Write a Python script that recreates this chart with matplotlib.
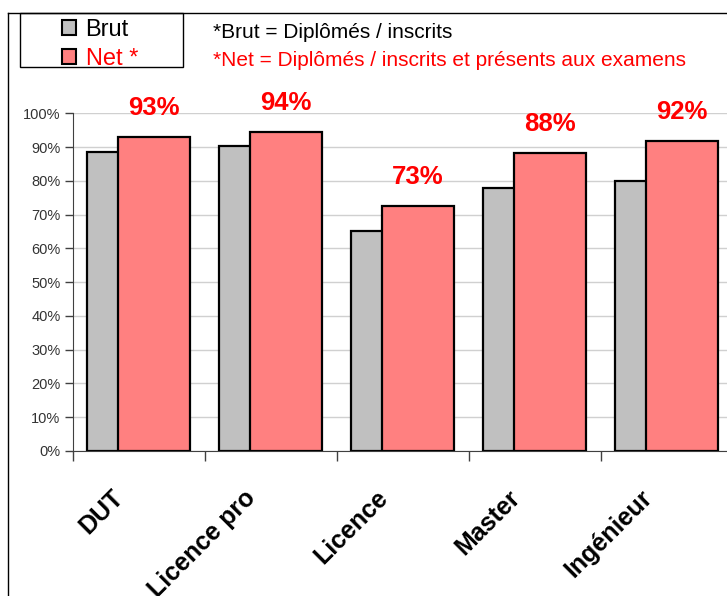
import matplotlib.pyplot as plt
import matplotlib.transforms as mtransforms
from matplotlib.lines import Line2D
from matplotlib.patches import Rectangle, Patch

plt.rcParams['font.family'] = ['Liberation Sans', 'DejaVu Sans']

categories = ['DUT', 'Licence pro', 'Licence', 'Master', 'Ingénieur']
brut = [88.5, 90.4, 65, 78, 80]
net = [93, 94.5, 72.6, 88.3, 91.8]
net_labels = ['93%', '94%', '73%', '88%', '92%']
yticks = [0, 10, 20, 30, 40, 50, 60, 70, 80, 90, 100]

W, H = 727, 596
fig = plt.figure(figsize=(W / 100, H / 100), dpi=100)

# axes placed in pixel terms, right end runs past the figure edge (as in the original)
left, right, bottom, top = 73, 733, 451, 113.3
ax = fig.add_axes([left / W, 1 - bottom / H, (right - left) / W, (bottom - top) / H])

x = list(range(len(categories)))
bw = 0.545
ax.bar([i - 0.12 for i in x], brut, width=bw, color='#C0C0C0', edgecolor='black',
       linewidth=1.6, zorder=2, label='Brut')
ax.bar([i + 0.115 for i in x], net, width=bw, color='#FF8080', edgecolor='black',
       linewidth=1.6, zorder=3, label='Net *')

for i, (v, lab) in enumerate(zip(net, net_labels)):
    ax.annotate(lab, (i + 0.115, v), xytext=(0, 21), textcoords='offset points',
                ha='center', va='center', color='#FF0000', fontsize=18.5,
                fontweight='bold', zorder=5)

ax.set_xlim(-0.5, len(categories) - 0.5)
ax.set_ylim(0, 100)
ax.set_yticks(yticks)
ax.set_yticklabels([f'{t}%' for t in yticks], fontsize=10.5, color='#333333')
ax.yaxis.grid(True, color='#D0D0D0', linewidth=1, zorder=0)
ax.set_axisbelow(True)
ax.tick_params(axis='y', direction='out', length=6, width=1, color='#404040', pad=3)

ax.set_xticks(x)
ax.set_xticklabels(categories, rotation=45, ha='right', va='center', rotation_mode='anchor',
                   fontweight='bold', fontsize=18)
ax.tick_params(axis='x', length=0, pad=31)
ax.set_xticks([i - 0.5 for i in range(len(categories) + 1)], minor=True)
ax.tick_params(axis='x', which='minor', direction='out', length=7, width=1, color='#404040')
shift = mtransforms.ScaledTranslation(-19 / 100, 0, fig.dpi_scale_trans)
for lbl in ax.get_xticklabels():
    lbl.set_transform(lbl.get_transform() + shift)

for s in ['top', 'right']:
    ax.spines[s].set_visible(False)
ax.spines['left'].set_color('#404040')
ax.spines['bottom'].set_color('#404040')

# chart frame
fig.add_artist(Line2D([8 / W, 8 / W], [0, 1 - 13 / H], color='black', linewidth=1))
fig.add_artist(Line2D([8 / W, 1], [1 - 13 / H, 1 - 13 / H], color='black', linewidth=1))

# legend box
fig.add_artist(Rectangle((20 / W, 1 - 67 / H), 163 / W, 54 / H, transform=fig.transFigure,
                         fill=False, edgecolor='black', linewidth=1))
handles = [Patch(facecolor='#C0C0C0', edgecolor='black', linewidth=1.5),
           Patch(facecolor='#FF8080', edgecolor='black', linewidth=1.5)]
leg = fig.legend(handles, ['Brut', 'Net *'], loc='upper left',
                 bbox_to_anchor=(62 / W, 1 - 19 / H), frameon=False, fontsize=17,
                 handlelength=0.6, handleheight=0.6, handletextpad=0.4, labelspacing=0.3,
                 borderpad=0, borderaxespad=0)
leg.get_texts()[1].set_color('#FF0000')

fig.text(213 / W, 1 - 32 / H, '*Brut = Diplômés / inscrits', fontsize=15, va='center',
         color='black')
fig.text(213 / W, 1 - 60 / H, '*Net = Diplômés / inscrits et présents aux examens',
         fontsize=15, va='center', color='#FF0000')

fig.savefig('out.png', dpi=100)
